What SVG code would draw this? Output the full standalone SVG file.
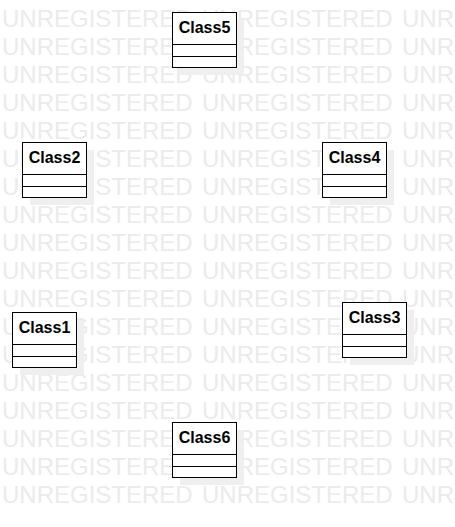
<svg xmlns="http://www.w3.org/2000/svg" width="455" height="527" viewBox="0 0 455 527">
<style>
.wm{font-family:"Liberation Sans",Arial,sans-serif;font-size:24px;fill:#ebebeb}
.box{fill:#fff;stroke:#000;stroke-width:1}
.sh{fill:#efefef}
.ln{stroke:#000;stroke-width:1}
.t{font-family:"Liberation Sans",Arial,sans-serif;font-size:16px;font-weight:bold;fill:#000;text-anchor:middle}
</style>
<defs>
<g id="wmrow"><text class="wm" x="2" y="0">UNREGISTERED</text><text class="wm" x="202" y="0">UNREGISTERED</text><text class="wm" x="402" y="0">UNREGISTERED</text></g>
<g id="cls">
<rect class="sh" x="8" y="8" width="64" height="55"/>
<rect class="box" x="0.5" y="0.5" width="64" height="55"/>
<line class="ln" x1="0.5" y1="32.5" x2="64.5" y2="32.5"/>
<line class="ln" x1="0.5" y1="44.5" x2="64.5" y2="44.5"/>
</g>
</defs>
<rect width="455" height="527" fill="#fff"/>
<g id="watermark">
<use href="#wmrow" y="27"/><use href="#wmrow" y="55"/><use href="#wmrow" y="83"/><use href="#wmrow" y="111"/>
<use href="#wmrow" y="139"/><use href="#wmrow" y="167"/><use href="#wmrow" y="195"/><use href="#wmrow" y="223"/>
<use href="#wmrow" y="251"/><use href="#wmrow" y="279"/><use href="#wmrow" y="307"/><use href="#wmrow" y="335"/>
<use href="#wmrow" y="363"/><use href="#wmrow" y="391"/><use href="#wmrow" y="419"/><use href="#wmrow" y="447"/>
<use href="#wmrow" y="475"/><use href="#wmrow" y="503"/>
</g>
<g id="connectors"></g>
<g id="Class5"><use href="#cls" x="172" y="12"/><text class="t" x="204.5" y="33">Class5</text></g>
<g id="Class2"><use href="#cls" x="22" y="142"/><text class="t" x="54.5" y="163">Class2</text></g>
<g id="Class4"><use href="#cls" x="322" y="142"/><text class="t" x="354.5" y="163">Class4</text></g>
<g id="Class1"><use href="#cls" x="12" y="312"/><text class="t" x="44.5" y="333">Class1</text></g>
<g id="Class3"><use href="#cls" x="342" y="302"/><text class="t" x="374.5" y="323">Class3</text></g>
<g id="Class6"><use href="#cls" x="172" y="422"/><text class="t" x="204.5" y="443">Class6</text></g>
</svg>
